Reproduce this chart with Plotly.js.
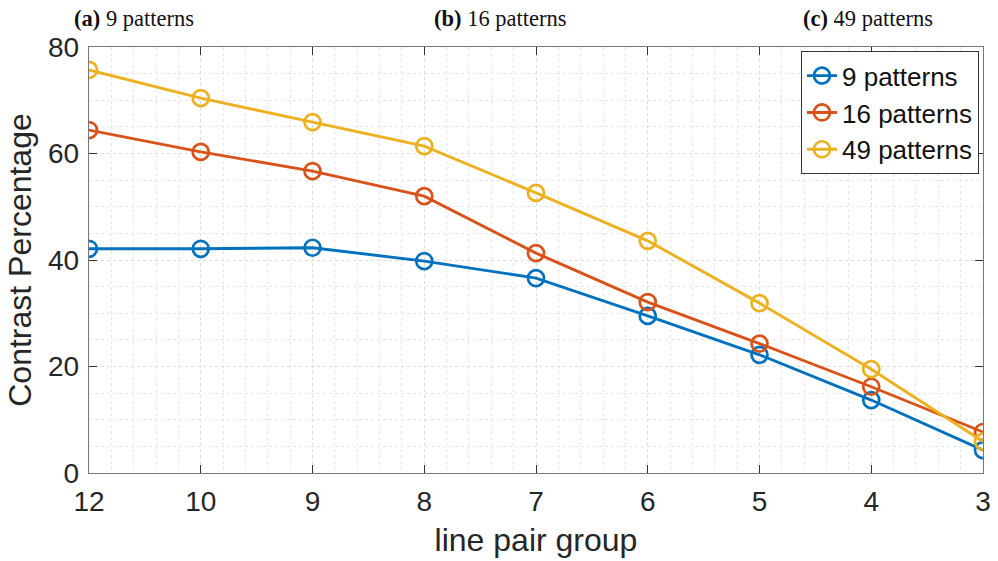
<!DOCTYPE html>
<html>
<head>
<meta charset="utf-8">
<script src="https://cdn.plot.ly/plotly-3.0.1.min.js"></script>
<style>html,body{margin:0;padding:0;background:#fff;}#chart{width:998px;height:561px;}</style>
</head>
<body>
<div id="chart"></div>
<script>
const categories = ["12", "10", "9", "8", "7", "6", "5", "4", "3"];
const seriesNames = ["9 patterns", "16 patterns", "49 patterns"];
const patterns9  = [42.1, 42.1, 42.3, 39.8, 36.6, 29.5, 22.2, 13.7, 4.3];
const patterns16 = [64.4, 60.3, 56.7, 52.0, 41.3, 32.1, 24.3, 16.2, 7.7];
const patterns49 = [75.7, 70.4, 65.9, 61.4, 52.6, 43.6, 31.9, 19.5, 5.9];
const yTicks = [0, 20, 40, 60, 80];
const topLabels = [["(a)", " 9 patterns"], ["(b)", " 16 patterns"], ["(c)", " 49 patterns"]];

const colors = ["#0072BD", "#D95319", "#EDB120"];
const xIdx = categories.map((c, i) => i);
const allSeries = [patterns9, patterns16, patterns49];

const traces = allSeries.map((vals, k) => ({
  x: xIdx, y: vals, name: seriesNames[k], type: "scatter", mode: "lines+markers",
  line: {color: colors[k], width: 2.9},
  marker: {symbol: "circle-open", size: 16, color: colors[k], line: {width: 2.7, color: colors[k]}}
}));

const sans = "Liberation Sans, Arial, sans-serif";
const axisCommon = {
  showline: true, mirror: "ticks", linecolor: "#777", linewidth: 1.2,
  ticks: "inside", ticklen: 8, tickcolor: "#333", tickwidth: 1,
  showgrid: true, gridcolor: "#dcdcdc", griddash: "dot", gridwidth: 1,
  zeroline: false,
  tickfont: {family: sans, size: 28, color: "#262626"}
};

const layout = {
  width: 998, height: 561,
  margin: {l: 89, r: 15, t: 47, b: 88},
  paper_bgcolor: "#fff", plot_bgcolor: "#fff",
  showlegend: true,
  xaxis: Object.assign({}, axisCommon, {
    range: [0, categories.length - 1], tickmode: "array", tickvals: xIdx, ticktext: categories,
    ticklabelstandoff: 3,
    minor: {dtick: 0.2, showgrid: true, gridcolor: "#e6e6e6", griddash: "dot", gridwidth: 1, ticks: ""},
    title: {text: "line pair group", font: {family: sans, size: 32, color: "#262626"}, standoff: 12}
  }),
  yaxis: Object.assign({}, axisCommon, {
    range: [0, 80], tickmode: "array", tickvals: yTicks,
    ticklabelstandoff: 3,
    minor: {dtick: 5, showgrid: true, gridcolor: "#e6e6e6", griddash: "dot", gridwidth: 1, ticks: ""},
    title: {text: "Contrast Percentage", font: {family: sans, size: 32, color: "#262626"}, standoff: 6}
  }),
  legend: {
    x: 0.7964, y: 0.99, xanchor: "left", yanchor: "top",
    bgcolor: "#fff", bordercolor: "#333", borderwidth: 1,
    font: {family: sans, size: 26, color: "#111"},
    itemwidth: 30, tracegroupgap: 0
  },
  annotations: topLabels.map((t, i) => ({
    xref: "paper", yref: "paper",
    x: ([72, 432, 801][i] - 89) / 894, y: (473 - 18) / 426,
    xanchor: "left", yanchor: "middle", showarrow: false,
    text: "<b>" + t[0] + "</b>" + t[1],
    font: {family: "Liberation Serif, Times New Roman, serif", size: 22.5, color: "#111"}
  }))
};

Plotly.newPlot("chart", traces, layout, {displayModeBar: false, staticPlot: true});
</script>
</body>
</html>
